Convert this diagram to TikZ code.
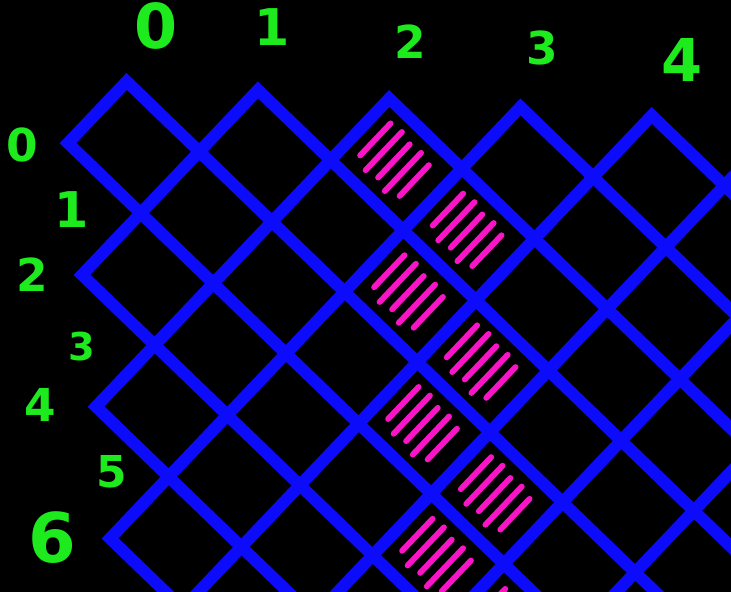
\documentclass[tikz,border=0pt]{standalone}
\usepackage{fontspec}
\setmainfont{DejaVu Sans}
\usepackage{tikz}
\usepackage{xcolor}

\definecolor{gridblue}{RGB}{12,12,250}
\definecolor{numgreen}{RGB}{30,235,30}
\definecolor{hatchpink}{RGB}{250,20,200}

\tikzset{
  gridline/.style={gridblue, line width=0.12cm, line join=miter},
  hatch/.style={hatchpink, line width=0.058cm, line cap=round},
  num/.style={numgreen, inner sep=0pt}
}

\begin{document}
\begin{tikzpicture}[x=0.01cm, y=-0.01cm]
\fill[black] (0,0) rectangle (731,592);
\useasboundingbox (0,0) rectangle (731,592);

\begin{scope}
\clip (0,0) rectangle (731,592);
\begin{scope}[shift={(0.68cm,-1.43cm)}, x={(0.726cm,-0.701cm)}, y={(0.586cm,0.616cm)}]
\foreach \k in {0,...,7}
{
	\draw[gridline] (12,-\k) -- (\k,-\k) -- (\k,\k+1) -- (12,\k+1);
}
\foreach \a/\b in {2/2,3/2,3/1,4/1,4/0,5/0,5/-1,6/-1}
{
	\foreach \s/\ta/\tb in {0.18/0.28/0.80,0.32/0.20/0.82,0.46/0.24/0.78,0.60/0.18/0.80,0.74/0.26/0.76}
		\draw[hatch] (\a+\s,\b+\ta) -- (\a+\s,\b+\tb);
}
\end{scope}
\end{scope}

\foreach \n/\x/\y/\sz in {0/156/26/17.6,1/272/27/14.4,2/410/42/12.9,3/542/48/12.9,4/682/60/16.8}
	\node[num, font=\bfseries\fontsize{\sz}{\sz}\selectfont] (col\n) at (\x,\y) {\n};
\foreach \n/\x/\y/\sz in {0/22/145/12.9,1/72/210/14,2/32/275/12.9,3/82/347/10.9,4/40/405/12.9,5/112/472/12.5,6/52/538/19.5}
	\node[num, font=\bfseries\fontsize{\sz}{\sz}\selectfont] (row\n) at (\x,\y) {\n};
\end{tikzpicture}
\end{document}
